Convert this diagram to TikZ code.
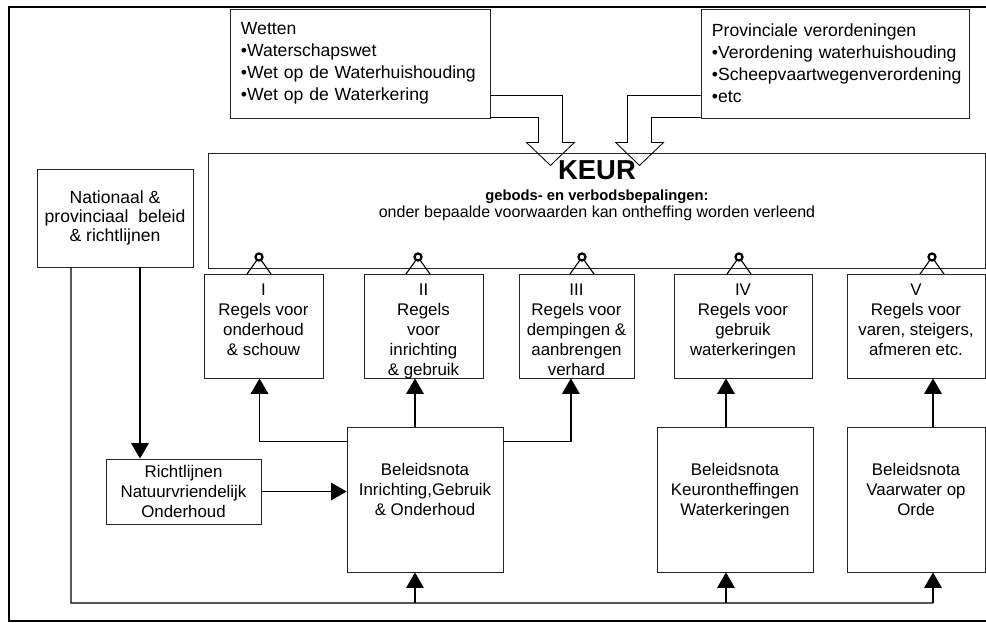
\documentclass[tikz,border=0pt]{standalone}
\usepackage{fontspec}
\setmainfont{Liberation Sans}
\usepackage{tikz}
\usetikzlibrary{arrows.meta,calc,positioning}
\tikzstyle{box} = [rectangle, draw=black!85, line width=0.6pt, inner sep=0pt]
\tikzstyle{lawbox} = [box, align=left, inner xsep=0.275cm, minimum height=2.725cm, font=\fontsize{12.5}{15.6}\selectfont]
\tikzstyle{rulebox} = [box, minimum height=2.6cm, font=\fontsize{12}{14.2}\selectfont]
\tikzstyle{notebox} = [box, minimum height=3.625cm, font=\fontsize{12}{14.2}\selectfont]
\tikzstyle{arrow} = [line width=1pt, -{Triangle[length=11pt,width=12.5pt]}]
\tikzstyle{line} = [line width=1pt]
\tikzstyle{blockarrow} = [line width=0.6pt, line join=miter]
\tikzstyle{hook} = [line width=1.6pt]
\newcommand{\boxbody}[4]{\parbox[c][#1][t]{#2}{\centering\vspace*{#3}#4}}

\begin{document}
\begin{tikzpicture}[x=0.025cm, y=-0.025cm]
\useasboundingbox (0,0) rectangle (986,623);
\draw[line width=1.4pt] (986,7) -- (9,7) -- (9,621) -- (986,621);

% Laws and regulations on top
\node[lawbox, text width=5.95cm] (wet) at (360,63.5) {
Wetten\\•Waterschapswet\\•Wet op de Waterhuishouding\\•Wet op de Waterkering
};
\node[lawbox, text width=6.15cm] (prov) at (835,63.5) {
Provinciale verordeningen\\•Verordening waterhuishouding\\•Scheepvaartwegenverordening\\•etc
};

% Keur
\node[box, minimum width=19.4cm, minimum height=2.875cm] (keur) at (597,210.5) {};
\node[anchor=base, font=\fontsize{19.5}{22}\selectfont\bfseries] (keurtitle) at (597,180) {KEUR};
\node[anchor=base, font=\fontsize{10.5}{13}\selectfont\bfseries] (keursub) at (597,200) {gebods- en verbodsbepalingen:};
\node[anchor=base, font=\fontsize{11.4}{13}\selectfont] (keurnote) at (597,218) {onder bepaalde voorwaarden kan ontheffing worden verleend};

\draw[blockarrow] ($(wet.south east)+(0,-23)$) -- ++(72,0) -- ++(0,47) -- ++(12,0) -- ++(-24,23)
  -- ++(-24,-23) -- ++(12,0) -- ++(0,-25) -- ++(-48,0);
\draw[blockarrow] ($(prov.south west)+(0,-23)$) -- ++(-73,0) -- ++(0,47) -- ++(-12,0) -- ++(24,23)
  -- ++(24,-23) -- ++(-12,0) -- ++(0,-25) -- ++(49,0);

% National policy
\node[box, minimum width=3.9cm, minimum height=2.45cm, align=center, font=\fontsize{12.5}{13.8}\selectfont] (nat) at (115,218) {
Nationaal \&\\provinciaal\ \ beleid\\\& richtlijnen
};

% Rules I - V
\node[rulebox] (r1) at (263.5,326) {\boxbody{2.6cm}{2.975cm}{2.4mm}{I\\Regels voor\\onderhoud\\\& schouw}};
\node[rulebox] (r2) at (423.5,326) {\boxbody{2.6cm}{2.975cm}{2.4mm}{II\\Regels\\voor\\inrichting\\\& gebruik}};
\node[rulebox] (r3) at (576.5,326) {\boxbody{2.6cm}{2.875cm}{2.4mm}{III\\Regels voor\\dempingen \&\\aanbrengen\\verhard}};
\node[rulebox] (r4) at (743,326) {\boxbody{2.6cm}{3.45cm}{2.4mm}{IV\\Regels voor\\gebruik\\waterkeringen}};
\node[rulebox] (r5) at (916,326) {\boxbody{2.6cm}{3.45cm}{2.4mm}{V\\Regels voor\\varen, steigers,\\afmeren etc.}};

\foreach \n/\x in {1/259, 2/418, 3/582, 4/739, 5/932} {
  \coordinate (h\n) at (\x,257);
  \draw[line width=0.8pt] (h\n) ++(-2,3) -- ++(-10,14);
  \draw[line width=0.8pt] (h\n) ++(2,3) -- ++(10,14);
  \draw[hook, fill=white] (h\n) circle[radius=2.5pt];
}

% Policy notes
\node[box, minimum width=3.875cm, minimum height=1.625cm, align=center, font=\fontsize{12}{14.2}\selectfont] (richt) at (183.5,491.5) {
Richtlijnen\\Natuurvriendelijk\\Onderhoud
};
\node[notebox] (igo) at (425,499.5) {\boxbody{3.625cm}{3.9cm}{0.9cm}{Beleidsnota\\Inrichting,Gebruik\\\& Onderhoud}};
\node[notebox] (kwk) at (735,499.5) {\boxbody{3.625cm}{3.9cm}{0.9cm}{Beleidsnota\\Keurontheffingen\\Waterkeringen}};
\node[notebox] (vaar) at (916,499.5) {\boxbody{3.625cm}{3.45cm}{0.9cm}{Beleidsnota\\Vaarwater op\\Orde}};

\draw[arrow] ([xshift=0.625cm]nat.south) -- ([xshift=0.625cm]nat.south |- richt.north);
\draw[arrow] (richt.east) -- (richt.east -| igo.west);
\draw[arrow] ([yshift=-0.375cm]igo.north west) -| ([xshift=-0.1cm]r1.south);
\draw[arrow] ([xshift=-0.25cm]igo.north) -- ([xshift=-0.25cm]igo.north |- r2.south);
\draw[arrow] ([yshift=-0.375cm]igo.north east) -| ([xshift=-0.14cm]r3.south);
\draw[arrow] ([xshift=-0.225cm]kwk.north) -- ([xshift=-0.225cm]kwk.north |- r4.south);
\draw[arrow] ([xshift=0.425cm]vaar.north) -- ([xshift=0.425cm]vaar.north |- r5.south);

% Bus along the bottom
\coordinate (bus) at (71,603);
\draw[line] ([xshift=-1.1cm]nat.south) -- (bus) -- ([xshift=0.425cm]vaar.south |- bus);
\foreach \b/\s in {igo/-0.25, kwk/-0.225, vaar/0.425}
  \draw[arrow] ([xshift=\s cm]\b.south |- bus) -- ([xshift=\s cm]\b.south);
\end{tikzpicture}
\end{document}
